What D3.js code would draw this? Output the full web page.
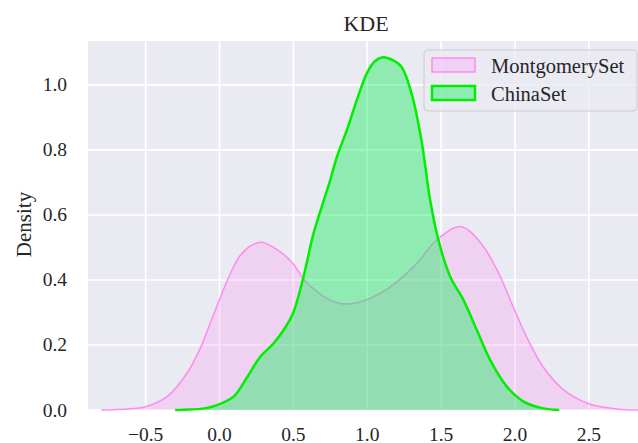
<!DOCTYPE html>
<html lang="en">
<head>
    <meta charset="UTF-8">
    <title>KDE</title>
    <style>
        body {
            margin: 0;
            background: #ffffff;
            font-family: "Liberation Serif", "Times New Roman", serif;
        }
        svg text {
            fill: #262626;
        }
    </style>
</head>
<body>
    <svg id="chart" width="638" height="443"></svg>
    <script src="https://d3js.org/d3.v7.min.js"></script>
    <script>
        // density estimates
        const montgomeryX = [-0.80, -0.72, -0.60, -0.50, -0.355, -0.22, -0.13, -0.06, 0.0, 0.074, 0.14, 0.21, 0.287, 0.41, 0.50, 0.57, 0.66, 0.75, 0.851, 1.0, 1.156, 1.336, 1.47, 1.634, 1.765, 1.88, 1.99, 2.08, 2.19, 2.33, 2.49, 2.69, 2.85];
        const montgomeryY = [0.0, 0.001, 0.004, 0.010, 0.041, 0.113, 0.19, 0.27, 0.34, 0.42, 0.475, 0.505, 0.516, 0.487, 0.449, 0.402, 0.364, 0.338, 0.326, 0.34, 0.379, 0.451, 0.523, 0.564, 0.516, 0.43, 0.315, 0.224, 0.133, 0.062, 0.021, 0.003, 0.0];

        const chinaX = [-0.30, -0.24, -0.10, -0.017, 0.095, 0.186, 0.276, 0.366, 0.44, 0.50, 0.569, 0.637, 0.693, 0.75, 0.795, 0.863, 0.93, 0.998, 1.05, 1.106, 1.17, 1.232, 1.30, 1.367, 1.426, 1.482, 1.562, 1.652, 1.742, 1.832, 1.945, 2.058, 2.193, 2.30];
        const chinaY = [0.0, 0.001, 0.005, 0.015, 0.041, 0.10, 0.164, 0.205, 0.25, 0.30, 0.41, 0.544, 0.626, 0.708, 0.779, 0.862, 0.954, 1.036, 1.072, 1.085, 1.077, 1.056, 0.974, 0.83, 0.646, 0.523, 0.41, 0.338, 0.246, 0.154, 0.072, 0.026, 0.005, 0.0];

        const xTicks = [-0.5, 0.0, 0.5, 1.0, 1.5, 2.0, 2.5];
        const yTicks = [0.0, 0.2, 0.4, 0.6, 0.8, 1.0];
        const seriesNames = ["MontgomerySet", "ChinaSet"];

        const svg = d3.select("#chart");
        const plot = { left: 88, right: 642, top: 41, bottom: 410 };

        const x = d3.scaleLinear().domain([-0.89, 2.86]).range([plot.left, plot.right]);
        const y = d3.scaleLinear().domain([0, 1.135]).range([plot.bottom, plot.top]);

        // background + grid
        svg.append("rect")
            .attr("x", plot.left).attr("y", plot.top)
            .attr("width", plot.right - plot.left).attr("height", plot.bottom - plot.top)
            .attr("fill", "#eaeaf2");

        svg.append("g").selectAll("line").data(xTicks).join("line")
            .attr("x1", d => x(d)).attr("x2", d => x(d))
            .attr("y1", plot.top).attr("y2", plot.bottom)
            .attr("stroke", "#ffffff").attr("stroke-width", 1.6);

        svg.append("g").selectAll("line").data(yTicks).join("line")
            .attr("x1", plot.left).attr("x2", plot.right)
            .attr("y1", d => y(d)).attr("y2", d => y(d))
            .attr("stroke", "#ffffff").attr("stroke-width", 1.6);

        const fmt = d => d3.format(".1f")(d).replace("-", "\u2212");

        svg.append("g").selectAll("text").data(xTicks).join("text")
            .attr("x", d => x(d)).attr("y", 440.5)
            .attr("text-anchor", "middle")
            .attr("font-size", 19.5)
            .text(fmt);

        svg.append("g").selectAll("text").data(yTicks).join("text")
            .attr("x", 67).attr("y", d => y(d) + 6.5)
            .attr("text-anchor", "end")
            .attr("font-size", 19.5)
            .text(fmt);

        // curves
        const toPoints = (xs, ys) => xs.map((v, i) => [v, ys[i]]);
        const area = d3.area().x(d => x(d[0])).y0(y(0)).y1(d => Math.min(y(0), y(d[1]))).curve(d3.curveCatmullRom.alpha(0.5));
        const line = d3.line().x(d => x(d[0])).y(d => y(d[1])).curve(d3.curveCatmullRom.alpha(0.5));

        const mont = toPoints(montgomeryX, montgomeryY);
        const china = toPoints(chinaX, chinaY);

        svg.append("path").datum(mont).attr("d", area)
            .attr("fill", "#ff8af2").attr("fill-opacity", 0.25);
        svg.append("path").datum(mont).attr("d", line)
            .attr("fill", "none").attr("stroke", "#ff8af0").attr("stroke-width", 1.5);

        svg.append("path").datum(china).attr("d", area)
            .attr("fill", "#0aee52").attr("fill-opacity", 0.4);
        svg.append("path").datum(china).attr("d", line)
            .attr("fill", "none").attr("stroke", "#00ee00").attr("stroke-width", 2.5);

        // title + axis label
        svg.append("text")
            .attr("x", 366).attr("y", 30.5)
            .attr("text-anchor", "middle")
            .attr("font-size", 22)
            .text("KDE");

        svg.append("text")
            .attr("transform", "translate(31,224.5) rotate(-90)")
            .attr("text-anchor", "middle")
            .attr("font-size", 21)
            .text("Density");

        // legend
        const legend = svg.append("g");
        legend.append("rect")
            .attr("x", 424).attr("y", 50).attr("width", 213).attr("height", 61)
            .attr("rx", 4)
            .attr("fill", "#eaeaf2").attr("fill-opacity", 0.8)
            .attr("stroke", "#cccccc").attr("stroke-width", 1);

        const swatch = [
            { fill: "#ff8af2", op: 0.25, stroke: "#ff8af0", sw: 1.5 },
            { fill: "#0aee52", op: 0.4, stroke: "#00ee00", sw: 2.5 }
        ];
        seriesNames.forEach((name, i) => {
            const yy = 58 + i * 28;
            legend.append("rect")
                .attr("x", 432).attr("y", yy).attr("width", 43).attr("height", 14)
                .attr("fill", swatch[i].fill).attr("fill-opacity", swatch[i].op)
                .attr("stroke", swatch[i].stroke).attr("stroke-width", swatch[i].sw);
            legend.append("text")
                .attr("x", 491).attr("y", yy + 14.5)
                .attr("font-size", 20.5)
                .text(name);
        });
    </script>
</body>
</html>
